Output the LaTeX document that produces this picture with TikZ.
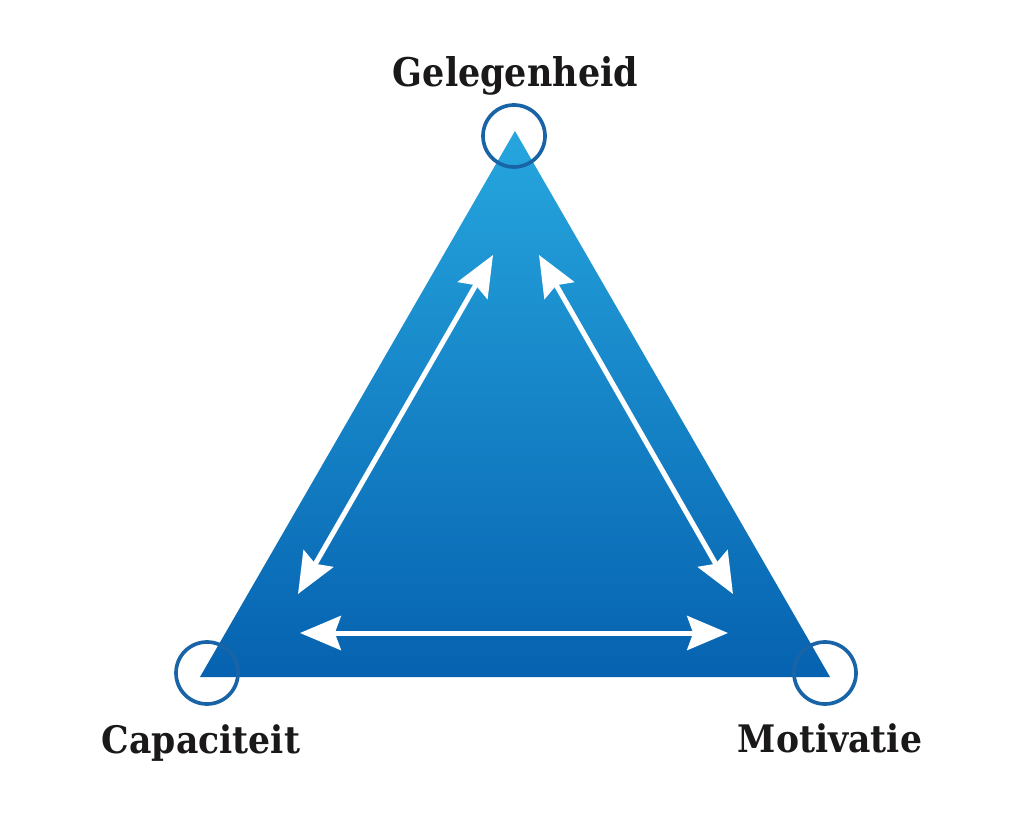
\documentclass[tikz,border=0pt]{standalone}
\usepackage{fontspec}
\setmainfont{DejaVu Serif}
\usetikzlibrary{arrows.meta}
\definecolor{triTop}{RGB}{38,166,222}
\definecolor{triBot}{RGB}{6,98,176}
\definecolor{ringBlue}{RGB}{24,100,166}
\definecolor{labelInk}{RGB}{26,24,24}
\tikzset{
  ring/.style={circle, draw=ringBlue, line width=2.6pt, minimum size=1.55cm, inner sep=0pt},
  tipx/.tip={Stealth[length=1.02cm,width=0.85cm,inset=0.15cm]},
  dbl/.style={draw=white, line width=0.125cm, tipx-tipx},
  lbl/.style={inner sep=0pt, anchor=base, text=labelInk}
}
\begin{document}
\begin{tikzpicture}[x=0.025cm,y=-0.025cm]
\useasboundingbox (0,0) rectangle (1024,819);
\fill[white] (0,0) rectangle (1024,819);
% vertices
\coordinate (T) at (515,131);
\coordinate (L) at (200,677);
\coordinate (R) at (830,677);
\shade[top color=triTop, bottom color=triBot] (T) -- (R) -- (L) -- cycle;
% rings
\node[ring] (ringT) at (514,136) {};
\node[ring] (ringL) at (207,673) {};
\node[ring] (ringR) at (825,673) {};
% arrow ends
\coordinate (a1) at (493,255);
\coordinate (a2) at (298,594);
\coordinate (b1) at (539,255);
\coordinate (b2) at (733,594);
\coordinate (c1) at (300,633);
\coordinate (c2) at (728,633);
\draw[dbl] (a1) -- (a2);
\draw[dbl] (b1) -- (b2);
\draw[dbl] (c1) -- (c2);
% labels
\node[lbl] (gel) at (515.5,87) {\resizebox{6.125cm}{0.75cm}{\bfseries Gelegenheid}};
\node[lbl] (cap) at (201,753) {\resizebox{4.95cm}{0.72cm}{\bfseries Capaciteit}};
\node[lbl] (mot) at (830,752) {\resizebox{4.6cm}{0.72cm}{\bfseries Motivatie}};
\end{tikzpicture}
\end{document}
